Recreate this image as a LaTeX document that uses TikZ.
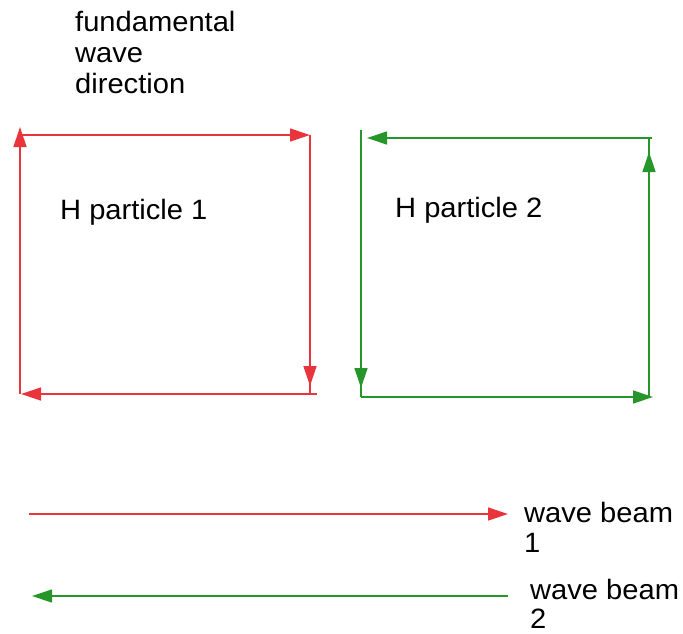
\documentclass[tikz,border=0pt]{standalone}
\usepackage{fontspec}
\setmainfont{Liberation Sans}[FakeStretch=1.04]
\usetikzlibrary{arrows.meta}
\definecolor{lred}{RGB}{232,52,58}
\definecolor{lgreen}{RGB}{38,150,42}
\begin{document}
\begin{tikzpicture}[x=1pt,y=-1pt,
  redline/.style={draw=lred,line width=1.3pt},
  greenline/.style={draw=lgreen,line width=1.3pt},
  tip/.style={-{Triangle[length=20pt,width=13pt]}},
  lbl/.style={anchor=base west,inner sep=0pt,font=\fontsize{28}{31}\selectfont}]
\useasboundingbox (0,0) rectangle (683,634);
% red square corners
\coordinate (rtl) at (20,135);
\coordinate (rtltip) at (20,127);
\coordinate (rtr) at (310,135);
\coordinate (rbr) at (310,394);
\coordinate (rbrtip) at (310,386);
\coordinate (rbrx) at (317,394);
\coordinate (rbl) at (20,394);
\coordinate (rbltip) at (21,394);
\draw[redline,tip] (rbl) -- (rtltip);
\draw[redline,tip] (rtl) -- (rtr);
\draw[redline] (rtr) -- (rbr);
\draw[redline,tip] (rtr) -- (rbrtip);
\draw[redline,tip] (rbrx) -- (rbltip);
% green square corners
\coordinate (gtl0) at (361,130);
\coordinate (gbltip) at (361,388);
\coordinate (gbl) at (361,397);
\coordinate (gtr) at (652,138);
\coordinate (gtltip) at (367,138);
\coordinate (gbr) at (649,397);
\coordinate (gtrtip) at (649,152);
\coordinate (gtrr) at (649,138);
\coordinate (gbrtip) at (653,397);
\draw[greenline] (gtl0) -- (gbl);
\draw[greenline,tip] (gtl0) -- (gbltip);
\draw[greenline,tip] (gtr) -- (gtltip);
\draw[greenline] (gbr) -- (gtrr);
\draw[greenline,tip] (gbr) -- (gtrtip);
\draw[greenline,tip] (gbl) -- (gbrtip);
% wave beams
\coordinate (b1s) at (29,514);
\coordinate (b1e) at (508,514);
\coordinate (b2s) at (508,596);
\coordinate (b2e) at (32,596);
\draw[redline,tip] (b1s) -- (b1e);
\draw[greenline,tip] (b2s) -- (b2e);
% labels
\node[lbl] (fwd) at (75,32) {\vtop{\baselineskip=31pt\hbox{fundamental}\hbox{wave}\hbox{direction}}};
\node[lbl] (hp1) at (60,219) {H particle 1};
\node[lbl] (hp2) at (395,217) {H particle 2};
\node[lbl] (wb1) at (524,522) {\vtop{\baselineskip=30pt\hbox{wave beam}\hbox{1}}};
\node[lbl] (wb2) at (530,599) {\vtop{\baselineskip=29pt\hbox{wave beam}\hbox{2}}};
\end{tikzpicture}
\end{document}
